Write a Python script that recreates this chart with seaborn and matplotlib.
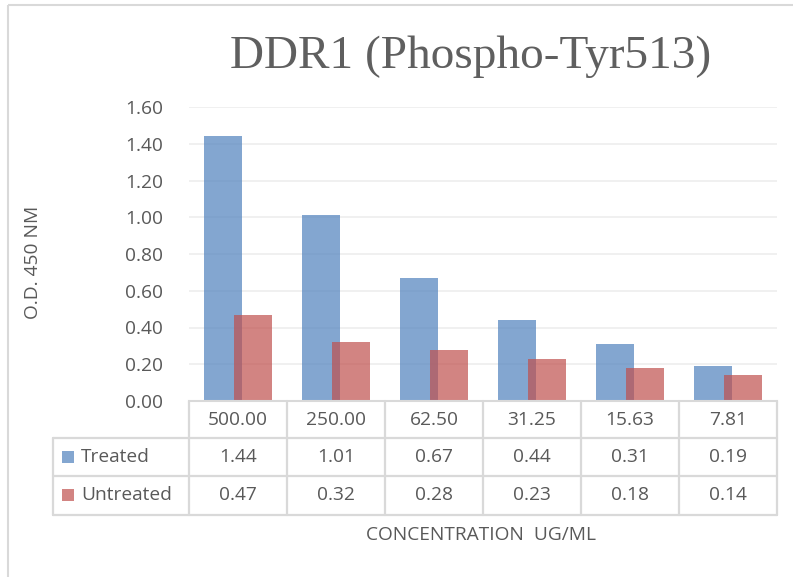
import pandas as pd
import seaborn as sns
import matplotlib.pyplot as plt
import matplotlib.transforms as mtrans
from matplotlib.lines import Line2D
from matplotlib.patches import Rectangle

# data
concentrations = ["500.00", "250.00", "62.50", "31.25", "15.63", "7.81"]
treated = [1.44, 1.01, 0.67, 0.44, 0.31, 0.19]
untreated = [0.47, 0.32, 0.28, 0.23, 0.18, 0.14]
series = ["Treated", "Untreated"]
colors = ["#4F81BD", "#C0504D"]
yticks = [0.0, 0.2, 0.4, 0.6, 0.8, 1.0, 1.2, 1.4, 1.6]

df = pd.DataFrame({
    "conc": concentrations * 2,
    "od": treated + untreated,
    "series": ["Treated"] * len(treated) + ["Untreated"] * len(untreated),
})

sns.set_theme(style="white")
plt.rcParams['font.family'] = ['Open Sans', 'DejaVu Sans']

W, H = 793, 577
TXT = "#595959"
LINE = "#D9D9D9"
FS = 13.8
fig = plt.figure(figsize=(W / 100, H / 100), dpi=100)


def box(x0, y0, x1, y1):
    return [x0 / W, 1 - y1 / H, (x1 - x0) / W, (y1 - y0) / H]


# pixel transform (y downward) for the figure
pxt = mtrans.Affine2D().scale(1 / W, -1 / H).translate(0, 1) + fig.transFigure

ax = fig.add_axes(box(189, 107, 777, 401))
sns.barplot(data=df, x="conc", y="od", hue="series", order=concentrations,
            hue_order=series, palette=colors, width=0.614, alpha=0.7,
            saturation=1, linewidth=0, legend=False, ax=ax)

# widen bars so they overlap like the original
for p in ax.patches:
    c = p.get_x() + p.get_width() / 2
    p.set_width(0.39)
    p.set_x(c - 0.195)

ax.set_xlim(-0.5, len(concentrations) - 0.5)
ax.set_ylim(0, 1.6)
ax.set_yticks(yticks)
ax.set_yticklabels([f"{v:.2f}" for v in yticks])
ax.set_xticks([])
ax.set_xlabel("")
ax.set_ylabel("")
ax.yaxis.grid(True, color="#EEEEEE", lw=1.2)
ax.set_axisbelow(True)
for s in ["top", "right", "left"]:
    ax.spines[s].set_visible(False)
ax.spines["bottom"].set_color(LINE)
ax.spines["bottom"].set_linewidth(1.5)
ax.tick_params(axis="y", length=0, pad=18.5, labelsize=FS, labelcolor=TXT)

# data table below the plot
blend = mtrans.blended_transform_factory(ax.transData, pxt)
rows_y = [401, 438, 476, 515]
for i in range(len(concentrations) + 1):
    fig.add_artist(Line2D([i - 0.5, i - 0.5], [401, 515], transform=blend,
                          color=LINE, lw=1.6))
for y in rows_y[1:]:
    fig.add_artist(Line2D([53, 777], [y, y], transform=pxt, color=LINE, lw=1.6))
fig.add_artist(Line2D([53, 53], [438, 515], transform=pxt, color=LINE, lw=1.6))

for i, c in enumerate(concentrations):
    fig.text(i, 420, c, transform=blend, ha="center", va="center",
             fontsize=FS, color=TXT)
for r, (name, vals, col) in enumerate(zip(series, [treated, untreated], colors)):
    yc = (rows_y[r + 1] + rows_y[r + 2]) / 2
    fig.add_artist(Rectangle((62, yc - 6.5), 12, 12, transform=pxt,
                             facecolor=col, alpha=0.7, lw=0))
    fig.text(81, yc, name, transform=pxt, ha="left", va="center",
             fontsize=FS, color=TXT)
    for i, v in enumerate(vals):
        fig.text(i, yc, f"{v:.2f}", transform=blend, ha="center", va="center",
                 fontsize=FS, color=TXT)

# titles and labels
fig.text(471, 57, "DDR1 (Phospho-Tyr513)", transform=pxt, ha="center",
         va="center", fontsize=34, color="#5F5F5F", family="Liberation Serif")
fig.text(33, 262, "O.D. 450 NM", transform=pxt, ha="center", va="center",
         rotation=90, fontsize=FS, color=TXT)
fig.text(481, 535, "CONCENTRATION  UG/ML", transform=pxt, ha="center",
         va="center", fontsize=FS, color=TXT)

# chart border
fig.add_artist(Rectangle((8, 5), 800, 600, transform=pxt, fill=False,
                         edgecolor=LINE, lw=1.5))

fig.savefig("out.png", dpi=100)
